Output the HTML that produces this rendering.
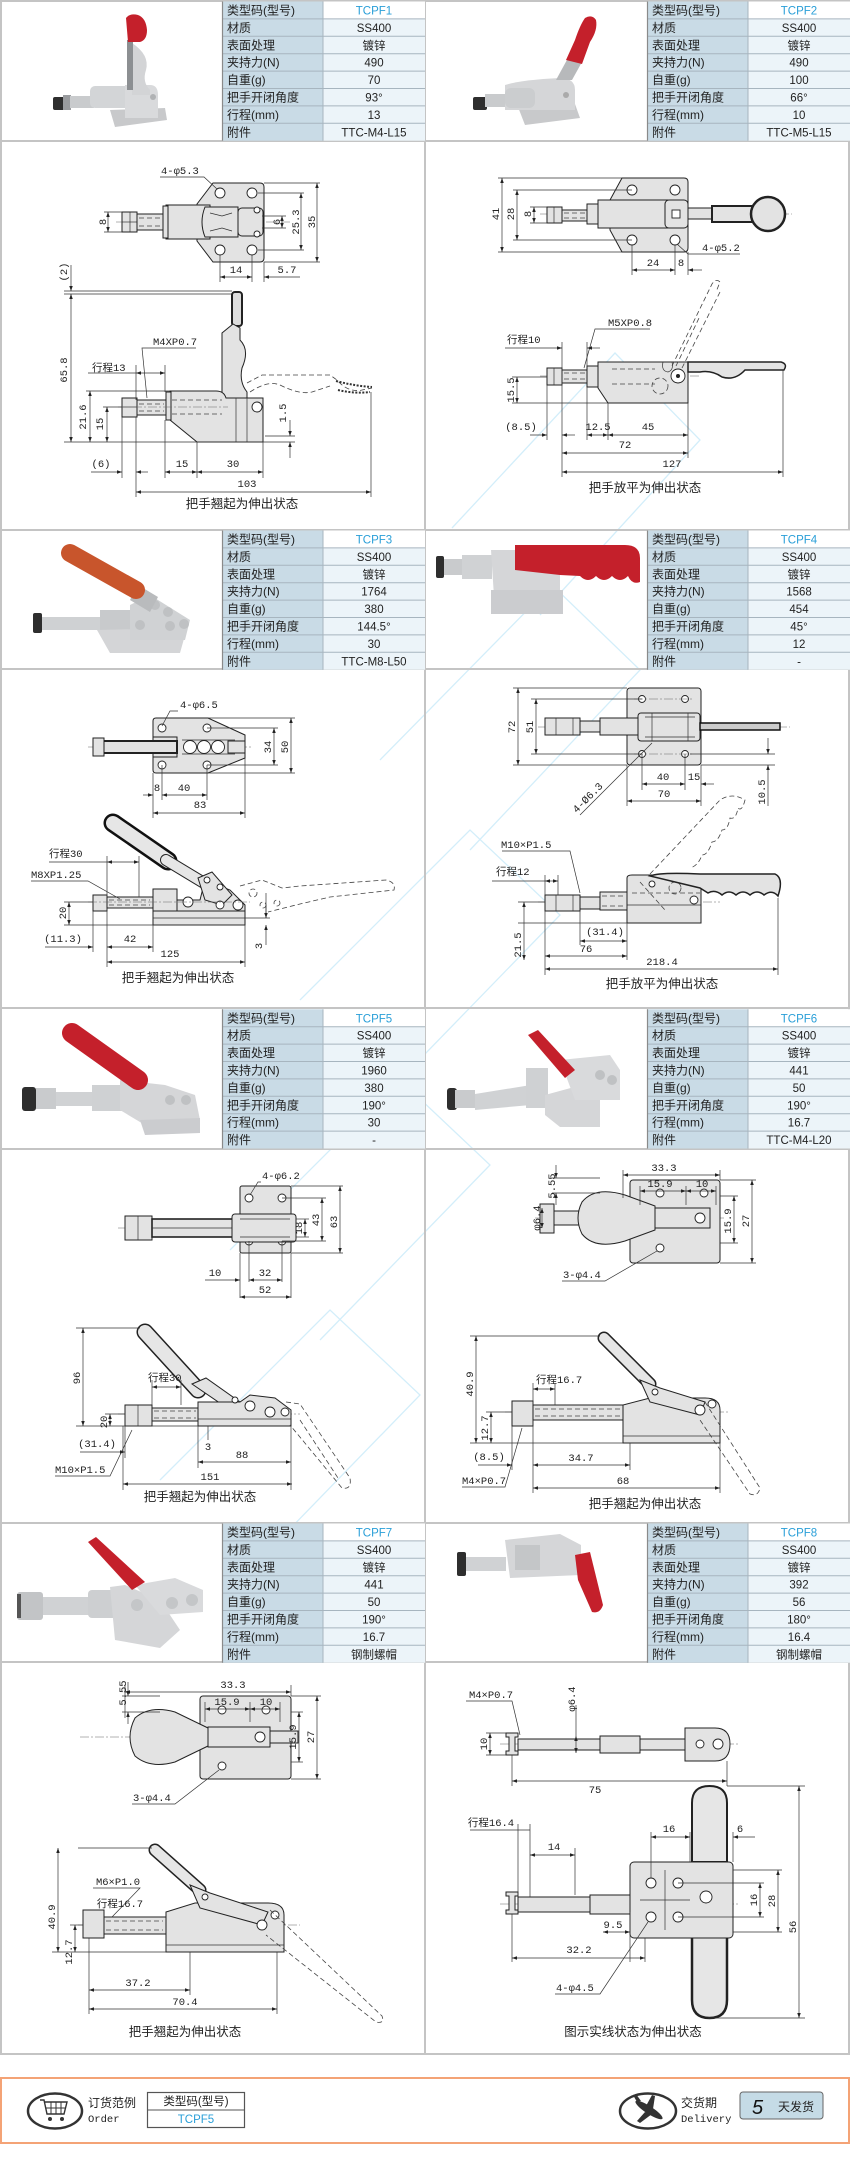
<!DOCTYPE html>
<html><head><meta charset="utf-8">
<style>
html,body{margin:0;padding:0;background:#fff}
svg{display:block}
.lb{font:12px "Liberation Sans","Noto Sans CJK SC",sans-serif;fill:#222}
.vl{font:11.5px "Liberation Sans","Noto Sans CJK SC",sans-serif;fill:#222;text-anchor:middle}
.cd{fill:#2a9fd8}
.d{font:10.5px "Liberation Mono","Noto Sans CJK SC",monospace;fill:#222}
.c{text-anchor:middle}
.cap{font:12.5px "Liberation Sans","Noto Sans CJK SC",sans-serif;fill:#222;text-anchor:middle}
.k{stroke:#333;stroke-width:.7;fill:none}
.ka{stroke:#333;stroke-width:.7;fill:none;marker-end:url(#a)}
.dm{stroke:#333;stroke-width:.7;fill:none;marker-start:url(#a);marker-end:url(#a)}
.p{fill:#e3e3e3;stroke:#222;stroke-width:1}
.h{fill:#fff;stroke:#222;stroke-width:.9}
.ds{fill:none;stroke:#444;stroke-width:.8;stroke-dasharray:5 3}
.cl{stroke:#666;stroke-width:.5;stroke-dasharray:9 2 2 2;fill:none}
.wm{fill:none;stroke:#d3eefa;stroke-width:1.3}
</style></head>
<body>
<svg width="850" height="2169" viewBox="0 0 850 2169" xmlns="http://www.w3.org/2000/svg">
<defs>
<marker id="a" viewBox="0 0 10 10" refX="10" refY="5" markerWidth="6" markerHeight="5" orient="auto-start-reverse" markerUnits="userSpaceOnUse"><path d="M0,1.5 L10,5 L0,8.5 Z" fill="#222"/></marker>
</defs>

<!-- watermark -->
<g class="wm">
<path d="M452,528 L615,353 L700,440 L540,615"/>
<path d="M380,760 L552,585 L640,670 L470,850"/>
<path d="M300,1000 L470,830 L560,915 L390,1090"/>
<path d="M230,1250 L400,1080 L490,1165 L320,1340"/>
<path d="M160,1480 L330,1310 L420,1395 L250,1570"/>
</g>

<!-- panel frames -->
<g fill="none" stroke="#c4c4c4" stroke-width="2">
<rect x="1" y="1" width="848" height="2053"/>
<line x1="425" y1="0" x2="425" y2="2054"/>
<line x1="0" y1="141" x2="850" y2="141"/>
<line x1="0" y1="530" x2="850" y2="530"/>
<line x1="0" y1="669" x2="850" y2="669"/>
<line x1="0" y1="1008" x2="850" y2="1008"/>
<line x1="0" y1="1149" x2="850" y2="1149"/>
<line x1="0" y1="1523" x2="850" y2="1523"/>
<line x1="0" y1="1662" x2="850" y2="1662"/>
</g>

<!-- ================= TABLES ================= -->
<g transform="translate(222,1.5)">
<rect width="101" height="139.2" fill="#c9dbe6"/><rect x="101" width="102" height="139.2" fill="#ecf4f9"/><rect x="101" width="102" height="17.4" fill="#fff"/>
<path d="M0,17.4H203M0,34.8H203M0,52.2H203M0,69.6H203M0,87H203M0,104.4H203M0,121.8H203" stroke="#a7b5bf"/>
<path d="M0.5,0V139.2" stroke="#8a8a8a" stroke-width="1.2"/><path d="M101,0V139.2" stroke="#a7b5bf"/>
<text class="lb" x="5" y="13">类型码(型号)</text><text class="lb" x="5" y="30.4">材质</text><text class="lb" x="5" y="47.8">表面处理</text><text class="lb" x="5" y="65.2">夹持力(N)</text><text class="lb" x="5" y="82.6">自重(g)</text><text class="lb" x="5" y="100">把手开闭角度</text><text class="lb" x="5" y="117.4">行程(mm)</text><text class="lb" x="5" y="134.8">附件</text>
<text class="vl cd" x="152" y="13">TCPF1</text><text class="vl" x="152" y="30.4">SS400</text><text class="vl" x="152" y="47.8">镀锌</text><text class="vl" x="152" y="65.2">490</text><text class="vl" x="152" y="82.6">70</text><text class="vl" x="152" y="100">93°</text><text class="vl" x="152" y="117.4">13</text><text class="vl" x="152" y="134.8">TTC-M4-L15</text>
</g>
<g transform="translate(647,1.5)">
<rect width="101" height="139.2" fill="#c9dbe6"/><rect x="101" width="102" height="139.2" fill="#ecf4f9"/><rect x="101" width="102" height="17.4" fill="#fff"/>
<path d="M0,17.4H203M0,34.8H203M0,52.2H203M0,69.6H203M0,87H203M0,104.4H203M0,121.8H203" stroke="#a7b5bf"/>
<path d="M0.5,0V139.2" stroke="#8a8a8a" stroke-width="1.2"/><path d="M101,0V139.2" stroke="#a7b5bf"/>
<text class="lb" x="5" y="13">类型码(型号)</text><text class="lb" x="5" y="30.4">材质</text><text class="lb" x="5" y="47.8">表面处理</text><text class="lb" x="5" y="65.2">夹持力(N)</text><text class="lb" x="5" y="82.6">自重(g)</text><text class="lb" x="5" y="100">把手开闭角度</text><text class="lb" x="5" y="117.4">行程(mm)</text><text class="lb" x="5" y="134.8">附件</text>
<text class="vl cd" x="152" y="13">TCPF2</text><text class="vl" x="152" y="30.4">SS400</text><text class="vl" x="152" y="47.8">镀锌</text><text class="vl" x="152" y="65.2">490</text><text class="vl" x="152" y="82.6">100</text><text class="vl" x="152" y="100">66°</text><text class="vl" x="152" y="117.4">10</text><text class="vl" x="152" y="134.8">TTC-M5-L15</text>
</g>
<g transform="translate(222,530.5)">
<rect width="101" height="139.2" fill="#c9dbe6"/><rect x="101" width="102" height="139.2" fill="#ecf4f9"/><rect x="101" width="102" height="17.4" fill="#fff"/>
<path d="M0,17.4H203M0,34.8H203M0,52.2H203M0,69.6H203M0,87H203M0,104.4H203M0,121.8H203" stroke="#a7b5bf"/>
<path d="M0.5,0V139.2" stroke="#8a8a8a" stroke-width="1.2"/><path d="M101,0V139.2" stroke="#a7b5bf"/>
<text class="lb" x="5" y="13">类型码(型号)</text><text class="lb" x="5" y="30.4">材质</text><text class="lb" x="5" y="47.8">表面处理</text><text class="lb" x="5" y="65.2">夹持力(N)</text><text class="lb" x="5" y="82.6">自重(g)</text><text class="lb" x="5" y="100">把手开闭角度</text><text class="lb" x="5" y="117.4">行程(mm)</text><text class="lb" x="5" y="134.8">附件</text>
<text class="vl cd" x="152" y="13">TCPF3</text><text class="vl" x="152" y="30.4">SS400</text><text class="vl" x="152" y="47.8">镀锌</text><text class="vl" x="152" y="65.2">1764</text><text class="vl" x="152" y="82.6">380</text><text class="vl" x="152" y="100">144.5°</text><text class="vl" x="152" y="117.4">30</text><text class="vl" x="152" y="134.8">TTC-M8-L50</text>
</g>
<g transform="translate(647,530.5)">
<rect width="101" height="139.2" fill="#c9dbe6"/><rect x="101" width="102" height="139.2" fill="#ecf4f9"/><rect x="101" width="102" height="17.4" fill="#fff"/>
<path d="M0,17.4H203M0,34.8H203M0,52.2H203M0,69.6H203M0,87H203M0,104.4H203M0,121.8H203" stroke="#a7b5bf"/>
<path d="M0.5,0V139.2" stroke="#8a8a8a" stroke-width="1.2"/><path d="M101,0V139.2" stroke="#a7b5bf"/>
<text class="lb" x="5" y="13">类型码(型号)</text><text class="lb" x="5" y="30.4">材质</text><text class="lb" x="5" y="47.8">表面处理</text><text class="lb" x="5" y="65.2">夹持力(N)</text><text class="lb" x="5" y="82.6">自重(g)</text><text class="lb" x="5" y="100">把手开闭角度</text><text class="lb" x="5" y="117.4">行程(mm)</text><text class="lb" x="5" y="134.8">附件</text>
<text class="vl cd" x="152" y="13">TCPF4</text><text class="vl" x="152" y="30.4">SS400</text><text class="vl" x="152" y="47.8">镀锌</text><text class="vl" x="152" y="65.2">1568</text><text class="vl" x="152" y="82.6">454</text><text class="vl" x="152" y="100">45°</text><text class="vl" x="152" y="117.4">12</text><text class="vl" x="152" y="134.8">-</text>
</g>
<g transform="translate(222,1009.3)">
<rect width="101" height="139.2" fill="#c9dbe6"/><rect x="101" width="102" height="139.2" fill="#ecf4f9"/><rect x="101" width="102" height="17.4" fill="#fff"/>
<path d="M0,17.4H203M0,34.8H203M0,52.2H203M0,69.6H203M0,87H203M0,104.4H203M0,121.8H203" stroke="#a7b5bf"/>
<path d="M0.5,0V139.2" stroke="#8a8a8a" stroke-width="1.2"/><path d="M101,0V139.2" stroke="#a7b5bf"/>
<text class="lb" x="5" y="13">类型码(型号)</text><text class="lb" x="5" y="30.4">材质</text><text class="lb" x="5" y="47.8">表面处理</text><text class="lb" x="5" y="65.2">夹持力(N)</text><text class="lb" x="5" y="82.6">自重(g)</text><text class="lb" x="5" y="100">把手开闭角度</text><text class="lb" x="5" y="117.4">行程(mm)</text><text class="lb" x="5" y="134.8">附件</text>
<text class="vl cd" x="152" y="13">TCPF5</text><text class="vl" x="152" y="30.4">SS400</text><text class="vl" x="152" y="47.8">镀锌</text><text class="vl" x="152" y="65.2">1960</text><text class="vl" x="152" y="82.6">380</text><text class="vl" x="152" y="100">190°</text><text class="vl" x="152" y="117.4">30</text><text class="vl" x="152" y="134.8">-</text>
</g>
<g transform="translate(647,1009.3)">
<rect width="101" height="139.2" fill="#c9dbe6"/><rect x="101" width="102" height="139.2" fill="#ecf4f9"/><rect x="101" width="102" height="17.4" fill="#fff"/>
<path d="M0,17.4H203M0,34.8H203M0,52.2H203M0,69.6H203M0,87H203M0,104.4H203M0,121.8H203" stroke="#a7b5bf"/>
<path d="M0.5,0V139.2" stroke="#8a8a8a" stroke-width="1.2"/><path d="M101,0V139.2" stroke="#a7b5bf"/>
<text class="lb" x="5" y="13">类型码(型号)</text><text class="lb" x="5" y="30.4">材质</text><text class="lb" x="5" y="47.8">表面处理</text><text class="lb" x="5" y="65.2">夹持力(N)</text><text class="lb" x="5" y="82.6">自重(g)</text><text class="lb" x="5" y="100">把手开闭角度</text><text class="lb" x="5" y="117.4">行程(mm)</text><text class="lb" x="5" y="134.8">附件</text>
<text class="vl cd" x="152" y="13">TCPF6</text><text class="vl" x="152" y="30.4">SS400</text><text class="vl" x="152" y="47.8">镀锌</text><text class="vl" x="152" y="65.2">441</text><text class="vl" x="152" y="82.6">50</text><text class="vl" x="152" y="100">190°</text><text class="vl" x="152" y="117.4">16.7</text><text class="vl" x="152" y="134.8">TTC-M4-L20</text>
</g>
<g transform="translate(222,1523.5)">
<rect width="101" height="139.2" fill="#c9dbe6"/><rect x="101" width="102" height="139.2" fill="#ecf4f9"/><rect x="101" width="102" height="17.4" fill="#fff"/>
<path d="M0,17.4H203M0,34.8H203M0,52.2H203M0,69.6H203M0,87H203M0,104.4H203M0,121.8H203" stroke="#a7b5bf"/>
<path d="M0.5,0V139.2" stroke="#8a8a8a" stroke-width="1.2"/><path d="M101,0V139.2" stroke="#a7b5bf"/>
<text class="lb" x="5" y="13">类型码(型号)</text><text class="lb" x="5" y="30.4">材质</text><text class="lb" x="5" y="47.8">表面处理</text><text class="lb" x="5" y="65.2">夹持力(N)</text><text class="lb" x="5" y="82.6">自重(g)</text><text class="lb" x="5" y="100">把手开闭角度</text><text class="lb" x="5" y="117.4">行程(mm)</text><text class="lb" x="5" y="134.8">附件</text>
<text class="vl cd" x="152" y="13">TCPF7</text><text class="vl" x="152" y="30.4">SS400</text><text class="vl" x="152" y="47.8">镀锌</text><text class="vl" x="152" y="65.2">441</text><text class="vl" x="152" y="82.6">50</text><text class="vl" x="152" y="100">190°</text><text class="vl" x="152" y="117.4">16.7</text><text class="vl" x="152" y="134.8">钢制螺帽</text>
</g>
<g transform="translate(647,1523.5)">
<rect width="101" height="139.2" fill="#c9dbe6"/><rect x="101" width="102" height="139.2" fill="#ecf4f9"/><rect x="101" width="102" height="17.4" fill="#fff"/>
<path d="M0,17.4H203M0,34.8H203M0,52.2H203M0,69.6H203M0,87H203M0,104.4H203M0,121.8H203" stroke="#a7b5bf"/>
<path d="M0.5,0V139.2" stroke="#8a8a8a" stroke-width="1.2"/><path d="M101,0V139.2" stroke="#a7b5bf"/>
<text class="lb" x="5" y="13">类型码(型号)</text><text class="lb" x="5" y="30.4">材质</text><text class="lb" x="5" y="47.8">表面处理</text><text class="lb" x="5" y="65.2">夹持力(N)</text><text class="lb" x="5" y="82.6">自重(g)</text><text class="lb" x="5" y="100">把手开闭角度</text><text class="lb" x="5" y="117.4">行程(mm)</text><text class="lb" x="5" y="134.8">附件</text>
<text class="vl cd" x="152" y="13">TCPF8</text><text class="vl" x="152" y="30.4">SS400</text><text class="vl" x="152" y="47.8">镀锌</text><text class="vl" x="152" y="65.2">392</text><text class="vl" x="152" y="82.6">56</text><text class="vl" x="152" y="100">180°</text><text class="vl" x="152" y="117.4">16.4</text><text class="vl" x="152" y="134.8">钢制螺帽</text>
</g>

<!-- ================= PRODUCT PHOTOS ================= -->
<g>
<rect x="53" y="97" width="14" height="13" rx="2" fill="#2e2e2e"/>
<rect x="63" y="95" width="8" height="15" fill="#9a9c9f"/>
<rect x="70" y="96" width="24" height="12" fill="#c9cbcd"/>
<polygon points="110,110 165,108 167,120 115,127" fill="#c8c9cb"/>
<rect x="90" y="86" width="42" height="22" rx="5" fill="#d3d5d7"/>
<path d="M125,85 H150 Q158,85 158,95 V118 H125 Z" fill="#d9dadc"/>
<circle cx="153" cy="97" r="3" fill="#b0b2b4"/>
<path d="M132,43 Q150,55 146,70 Q142,82 150,90 L150,95 H132 Z" fill="#d3d4d6"/>
<rect x="127" y="40" width="6" height="50" fill="#8c8f92"/>
<path d="M126,18 Q130,13 138,15 Q146,18 147,30 Q147,40 140,42 L128,42 Z" fill="#c4202b"/>
</g>
<g>
<rect x="473" y="97" width="14" height="13" rx="2" fill="#2e2e2e"/>
<rect x="485" y="94" width="22" height="13" fill="#c9cbcd"/>
<polygon points="518,107 575,104 580,118 525,125" fill="#c8c9cb"/>
<path d="M505,85 Q520,80 560,78 Q575,78 575,90 V110 H505 Z" fill="#d5d6d8"/>
<rect x="505" y="88" width="30" height="20" rx="6" fill="#cbcdcf"/>
<circle cx="566" cy="95" r="3" fill="#aaa"/>
<polygon points="556,80 572,80 582,62 568,58" fill="#b7b9bb"/>
<path d="M566,60 L575,40 Q580,25 585,18 Q592,14 596,20 Q598,30 590,42 L582,64 Z" fill="#c4202b"/>
</g>
<g>
<rect x="33" y="613" width="9" height="20" rx="2" fill="#2e2e2e"/>
<rect x="42" y="617" width="60" height="13" fill="#cfd1d3"/>
<rect x="100" y="610" width="30" height="25" fill="#c8cacc"/>
<polygon points="97,630 187,628 180,653 110,653" fill="#d4d5d7"/>
<path d="M130,605 L150,595 L190,620 L185,640 L130,640 Z" fill="#d0d2d4"/>
<circle cx="155" cy="605" r="5" fill="#bfc1c3"/><circle cx="168" cy="612" r="5" fill="#bfc1c3"/><circle cx="140" cy="625" r="5" fill="#bfc1c3"/><circle cx="170" cy="626" r="5" fill="#bfc1c3"/><circle cx="184" cy="624" r="5" fill="#bfc1c3"/>
<polygon points="138,585 158,597 150,612 130,600" fill="#b9bbbd"/>
<line x1="70" y1="553" x2="136" y2="590" stroke="#c8552c" stroke-width="18" stroke-linecap="round"/>
</g>
<g>
<rect x="436" y="556" width="8" height="22" rx="2" fill="#2e2e2e"/>
<rect x="444" y="559" width="20" height="16" fill="#c9cbcd"/>
<rect x="462" y="555" width="30" height="24" fill="#d0d2d4"/>
<path d="M491,550 H560 V612 H495 Z" fill="#d5d6d8"/>
<rect x="491" y="590" width="72" height="24" fill="#cbcccf"/>
<path d="M515,545 H625 Q640,545 640,558 V582 Q632,585 628,576 Q620,584 612,576 Q604,584 596,576 Q588,584 580,576 L560,575 L515,570 Z" fill="#c4202b"/>
</g>
<g>
<rect x="22" y="1087" width="14" height="24" rx="3" fill="#2e2e2e"/>
<rect x="36" y="1088" width="20" height="21" fill="#c9cbcd"/>
<rect x="56" y="1092" width="42" height="14" fill="#d0d2d4"/>
<rect x="92" y="1085" width="30" height="26" fill="#cfd1d3"/>
<path d="M120,1080 L165,1085 L195,1095 L200,1120 L145,1125 L120,1110 Z" fill="#d5d6d8"/>
<polygon points="140,1120 200,1118 200,1133 145,1135" fill="#cbcccf"/>
<circle cx="170" cy="1100" r="5" fill="#bfc1c3"/><circle cx="186" cy="1100" r="5" fill="#bfc1c3"/>
<line x1="72" y1="1033" x2="138" y2="1080" stroke="#c4202b" stroke-width="20" stroke-linecap="round"/>
</g>
<g>
<rect x="447" y="1088" width="10" height="22" rx="3" fill="#2e2e2e"/>
<rect x="455" y="1090" width="20" height="18" fill="#c9cbcd"/>
<polygon points="475,1094 531,1085 531,1105 475,1110" fill="#d0d2d4"/>
<rect x="526" y="1068" width="22" height="40" fill="#cfd1d3"/>
<polygon points="545,1095 600,1080 600,1127 560,1127 545,1115" fill="#d5d6d8"/>
<path d="M560,1060 L610,1055 L620,1070 L620,1100 L575,1100 Z" fill="#d9dadc"/>
<circle cx="600" cy="1075" r="5" fill="#bfc1c3"/><circle cx="612" cy="1080" r="5" fill="#bfc1c3"/>
<polygon points="528,1035 538,1030 575,1070 565,1078" fill="#c4202b"/>
</g>
<g>
<rect x="17" y="1592" width="26" height="28" rx="3" fill="#c2c4c6"/>
<rect x="17" y="1594" width="4" height="24" fill="#555"/>
<rect x="43" y="1597" width="50" height="18" fill="#d0d2d4"/>
<rect x="88" y="1590" width="32" height="28" rx="4" fill="#cdcfd1"/>
<path d="M110,1587 L125,1585 L160,1600 L180,1630 L160,1648 L115,1640 Z" fill="#d5d6d8"/>
<path d="M135,1585 L175,1578 L203,1590 L203,1612 L160,1615 Z" fill="#d9dadc"/>
<circle cx="137" cy="1605" r="6" fill="#c4c6c8"/><circle cx="172" cy="1603" r="6" fill="#c4c6c8"/><circle cx="192" cy="1600" r="6" fill="#c4c6c8"/>
<polygon points="88,1542 96,1537 145,1582 132,1590" fill="#c4202b"/>
</g>
<g>
<rect x="457" y="1552" width="9" height="24" rx="2" fill="#2e2e2e"/>
<rect x="466" y="1557" width="40" height="14" fill="#d0d2d4"/>
<path d="M505,1540 L560,1534 L581,1545 L581,1575 L510,1578 Z" fill="#d5d6d8"/>
<rect x="515" y="1545" width="25" height="25" fill="#c4c6c8"/>
<path d="M575,1555 L590,1552 L603,1605 Q600,1614 592,1612 L578,1580 Z" fill="#c4202b"/>
</g>

<!-- ================= DRAWING 1 (TCPF1) ================= -->
<g>
<line class="cl" x1="116" y1="222" x2="292" y2="222"/>
<path class="p" d="M213,183 H260 Q264,183 264,187 V258 Q264,262 260,262 H213 L197,241 V204 Z"/>
<circle class="h" cx="220" cy="193" r="5"/><circle class="h" cx="252" cy="193" r="5"/><circle class="h" cx="220" cy="250" r="5"/><circle class="h" cx="252" cy="250" r="5"/>
<rect class="p" x="166" y="205" width="44" height="34"/>
<path class="p" d="M205,207 L238,207 L238,237 L205,237 Q199,222 205,207 Z"/>
<path class="k" d="M210,213 L222,216 L232,213 M210,231 L222,228 L232,231"/>
<rect class="p" x="238" y="208" width="25" height="28" rx="4"/>
<circle class="h" cx="257" cy="210" r="3"/><circle class="h" cx="257" cy="234" r="3"/>
<rect class="p" x="163" y="206" width="5" height="32"/>
<rect class="p" x="122" y="212" width="15" height="20"/>
<line class="k" x1="122" y1="222" x2="137" y2="222"/><line class="k" x1="130" y1="212" x2="130" y2="232"/>
<rect class="p" x="137" y="214" width="26" height="16"/>
<line class="ds" x1="139" y1="218" x2="162" y2="218"/><line class="ds" x1="139" y1="226" x2="162" y2="226"/>
<text class="d" x="161" y="174">4-φ5.3</text>
<polyline class="k" points="160,177 204,177 217,189"/>
<line class="k" x1="104" y1="212" x2="122" y2="212"/><line class="k" x1="104" y1="232" x2="122" y2="232"/>
<line class="dm" x1="108" y1="212" x2="108" y2="232"/>
<text class="d c" transform="translate(106,222) rotate(-90)">8</text>
<line class="k" x1="264" y1="183" x2="320" y2="183"/><line class="k" x1="264" y1="262" x2="320" y2="262"/>
<line class="k" x1="258" y1="193" x2="304" y2="193"/><line class="k" x1="258" y1="250" x2="304" y2="250"/>
<line class="k" x1="262" y1="216" x2="286" y2="216"/><line class="k" x1="262" y1="228" x2="286" y2="228"/>
<line class="dm" x1="317" y1="183" x2="317" y2="262"/>
<line class="dm" x1="301" y1="193" x2="301" y2="250"/>
<line class="dm" x1="282" y1="216" x2="282" y2="228"/>
<text class="d c" transform="translate(280,222) rotate(-90)">6</text>
<text class="d c" transform="translate(299,222) rotate(-90)">25.3</text>
<text class="d c" transform="translate(315,222) rotate(-90)">35</text>
<line class="k" x1="220" y1="255" x2="220" y2="282"/><line class="k" x1="252" y1="255" x2="252" y2="282"/><line class="k" x1="264" y1="262" x2="264" y2="282"/>
<line class="dm" x1="220" y1="277" x2="252" y2="277"/>
<line class="ka" x1="300" y1="277" x2="264" y2="277"/>
<text class="d c" x="236" y="273">14</text><text class="d c" x="287" y="273">5.7</text>
<line class="k" x1="64" y1="291" x2="232" y2="291"/>
<line class="k" x1="64" y1="294" x2="232" y2="294"/>
<line class="ka" x1="71" y1="265" x2="71" y2="291"/>
<line class="dm" x1="71" y1="294" x2="71" y2="442"/>
<text class="d c" transform="translate(67,272) rotate(-90)">(2)</text>
<text class="d c" transform="translate(67,370) rotate(-90)">65.8</text>
<rect x="232" y="292" width="10" height="34" rx="3" fill="#ddd" stroke="#222" stroke-width="2"/>
<path class="p" d="M233,324 L222,333 L222,400 L247,400 L247,392 Q239,382 242,368 Q250,350 240,340 L240,328 Z"/>
<path class="p" d="M170,391 H216 Q224,391 226,398 H263 V442 H197 L170,420 Z"/>
<line class="k" x1="236" y1="398" x2="236" y2="442"/><line class="k" x1="247" y1="398" x2="247" y2="442"/>
<line class="ds" x1="172" y1="400" x2="222" y2="400"/><line class="ds" x1="172" y1="414" x2="222" y2="414"/>
<circle class="h" cx="257" cy="407" r="5"/>
<rect class="p" x="166" y="392" width="5" height="28"/>
<rect class="p" x="122" y="398" width="15" height="19"/>
<line class="k" x1="122" y1="407" x2="137" y2="407"/>
<rect class="p" x="137" y="400" width="29" height="15"/>
<line class="ds" x1="139" y1="404" x2="164" y2="404"/><line class="ds" x1="139" y1="411" x2="164" y2="411"/>
<line class="cl" x1="118" y1="407" x2="228" y2="407"/>
<path class="ds" d="M247,383 L262,375 H330 L337,380 Q348,393 362,390 L372,388"/>
<path class="ds" d="M250,392 Q268,380 280,385 Q300,395 312,392 L330,386"/>
<path d="M336,381 Q355,386 372,387" stroke="#333" stroke-width="2" stroke-dasharray="2 1.5" fill="none"/>
<path d="M338,390 Q355,394 370,392" stroke="#333" stroke-width="2" stroke-dasharray="2 1.5" fill="none"/>
<text class="d" x="92" y="371">行程13</text>
<line class="k" x1="136" y1="365" x2="136" y2="400"/><line class="k" x1="165" y1="365" x2="165" y2="392"/>
<line class="k" x1="88" y1="373" x2="136" y2="373"/>
<line class="dm" x1="136" y1="373" x2="165" y2="373"/>
<text class="d" x="153" y="345">M4XP0.7</text>
<polyline class="k" points="196,348 142,348 147,398"/>
<line class="k" x1="86" y1="391" x2="170" y2="391"/>
<line class="dm" x1="90" y1="391" x2="90" y2="442"/>
<text class="d c" transform="translate(86,417) rotate(-90)">21.6</text>
<line class="k" x1="103" y1="407" x2="122" y2="407"/>
<line class="dm" x1="107" y1="407" x2="107" y2="442"/>
<text class="d c" transform="translate(103,424) rotate(-90)">15</text>
<line class="k" x1="64" y1="442" x2="295" y2="442"/>
<line class="k" x1="265" y1="436" x2="295" y2="436"/>
<line class="ka" x1="290" y1="420" x2="290" y2="436"/>
<line class="ka" x1="290" y1="458" x2="290" y2="442"/>
<text class="d c" transform="translate(286,413) rotate(-90)">1.5</text>
<line class="k" x1="122" y1="417" x2="122" y2="478"/><line class="k" x1="136" y1="417" x2="136" y2="497"/>
<line class="k" x1="165" y1="420" x2="165" y2="478"/><line class="k" x1="197" y1="442" x2="197" y2="478"/>
<line class="k" x1="263" y1="442" x2="263" y2="478"/><line class="k" x1="371" y1="392" x2="371" y2="497"/>
<line class="ka" x1="91" y1="472" x2="122" y2="472"/><line class="ka" x1="148" y1="472" x2="136" y2="472"/>
<text class="d c" x="101" y="467">(6)</text>
<line class="dm" x1="165" y1="472" x2="197" y2="472"/><line class="dm" x1="197" y1="472" x2="263" y2="472"/>
<text class="d c" x="182" y="467">15</text><text class="d c" x="233" y="467">30</text>
<line class="dm" x1="136" y1="492" x2="371" y2="492"/>
<text class="d c" x="247" y="487">103</text>
<text class="cap" x="242" y="508">把手翘起为伸出状态</text>
</g>

<!-- ================= DRAWING 2 (TCPF2) ================= -->
<g>
<line class="cl" x1="540" y1="214" x2="792" y2="214"/>
<path class="p" d="M622,178 H684 Q688,178 688,182 V248 Q688,252 684,252 H622 L610,230 V200 Z"/>
<circle class="h" cx="632" cy="190" r="5"/><circle class="h" cx="675" cy="190" r="5"/><circle class="h" cx="632" cy="240" r="5"/><circle class="h" cx="675" cy="240" r="5"/>
<rect class="p" x="598" y="200" width="70" height="28"/>
<rect class="p" x="587" y="204" width="11" height="20"/>
<rect class="p" x="665" y="200" width="23" height="28" rx="4"/>
<rect class="h" x="672" y="210" width="8" height="8"/>
<rect class="p" x="547" y="207" width="15" height="16"/>
<line class="k" x1="554" y1="207" x2="554" y2="223"/>
<rect class="p" x="562" y="210" width="25" height="11"/>
<line class="ds" x1="564" y1="213" x2="585" y2="213"/><line class="ds" x1="564" y1="218" x2="585" y2="218"/>
<rect class="p" x="688" y="208" width="25" height="11"/>
<rect x="712" y="206" width="42" height="16" fill="#e3e3e3" stroke="#222" stroke-width="2"/>
<circle cx="768" cy="214" r="17" fill="#e3e3e3" stroke="#222" stroke-width="2.5"/>
<line class="k" x1="498" y1="178" x2="622" y2="178"/><line class="k" x1="498" y1="252" x2="622" y2="252"/>
<line class="k" x1="513" y1="190" x2="632" y2="190"/><line class="k" x1="513" y1="240" x2="632" y2="240"/>
<line class="k" x1="530" y1="207" x2="547" y2="207"/><line class="k" x1="530" y1="223" x2="547" y2="223"/>
<line class="dm" x1="502" y1="178" x2="502" y2="252"/>
<line class="dm" x1="517" y1="190" x2="517" y2="240"/>
<line class="dm" x1="534" y1="207" x2="534" y2="223"/>
<text class="d c" transform="translate(499,214) rotate(-90)">41</text>
<text class="d c" transform="translate(514,214) rotate(-90)">28</text>
<text class="d c" transform="translate(531,214) rotate(-90)">8</text>
<text class="d" x="702" y="251">4-φ5.2</text>
<polyline class="k" points="677,244 688,254 740,254"/>
<line class="k" x1="632" y1="245" x2="632" y2="275"/><line class="k" x1="675" y1="245" x2="675" y2="275"/><line class="k" x1="688" y1="252" x2="688" y2="275"/>
<line class="dm" x1="632" y1="270" x2="675" y2="270"/>
<line class="ka" x1="702" y1="270" x2="688" y2="270"/>
<text class="d c" x="653" y="266">24</text><text class="d c" x="681" y="266">8</text>
<line class="cl" x1="540" y1="376" x2="700" y2="376"/>
<path class="p" d="M598,362 H688 V403 H608 L598,388 Z"/>
<path class="ds" d="M612,369 H655 M612,384 H655"/>
<circle class="ds" cx="660" cy="386" r="8"/>
<circle class="h" cx="678" cy="376" r="7"/><circle cx="678" cy="376" r="2" fill="#222"/>
<path class="k" d="M663,362 Q661,371 668,372 Q674,370 672,362"/>
<rect class="p" x="587" y="366" width="11" height="21"/>
<rect class="p" x="547" y="368" width="15" height="17"/>
<line class="k" x1="554" y1="368" x2="554" y2="385"/>
<rect class="p" x="562" y="370" width="25" height="13"/>
<line class="ds" x1="564" y1="373" x2="585" y2="373"/><line class="ds" x1="564" y1="379" x2="585" y2="379"/>
<path d="M688,362 H781 Q788,364 784,370 H745 Q735,381 722,377 Q712,370 700,372 H688 Z" fill="#e3e3e3" stroke="#222" stroke-width="1.5"/>
<path class="ds" d="M672,366 L712,284 Q716,278 720,282 L716,292"/>
<path class="ds" d="M682,368 L720,292"/>
<path class="ds" d="M676,366 L700,316"/>
<text class="d" x="608" y="326">M5XP0.8</text>
<polyline class="k" points="650,329 595,329 584,368"/>
<text class="d" x="507" y="343">行程10</text>
<line class="k" x1="505" y1="348" x2="545" y2="348"/>
<line class="ka" x1="545" y1="348" x2="562" y2="348"/><line class="ka" x1="600" y1="348" x2="587" y2="348"/>
<line class="k" x1="562" y1="342" x2="562" y2="385"/><line class="k" x1="587" y1="342" x2="587" y2="367"/>
<line class="k" x1="512" y1="377" x2="547" y2="377"/><line class="k" x1="512" y1="403" x2="608" y2="403"/>
<line class="dm" x1="517" y1="377" x2="517" y2="403"/>
<text class="d c" transform="translate(514,390) rotate(-90)">15.5</text>
<line class="k" x1="547" y1="385" x2="547" y2="440"/><line class="k" x1="562" y1="385" x2="562" y2="477"/>
<line class="k" x1="587" y1="387" x2="587" y2="440"/><line class="k" x1="608" y1="403" x2="608" y2="440"/>
<line class="k" x1="688" y1="403" x2="688" y2="458"/><line class="k" x1="783" y1="370" x2="783" y2="477"/>
<line class="ka" x1="530" y1="435" x2="547" y2="435"/><line class="ka" x1="575" y1="435" x2="562" y2="435"/>
<text class="d c" x="521" y="430">(8.5)</text>
<line class="dm" x1="587" y1="435" x2="608" y2="435"/><line class="dm" x1="608" y1="435" x2="688" y2="435"/>
<text class="d c" x="598" y="430">12.5</text><text class="d c" x="648" y="430">45</text>
<line class="dm" x1="562" y1="453" x2="688" y2="453"/>
<text class="d c" x="625" y="448">72</text>
<line class="dm" x1="562" y1="472" x2="783" y2="472"/>
<text class="d c" x="672" y="467">127</text>
<text class="cap" x="645" y="492">把手放平为伸出状态</text>
</g>

<!-- ================= DRAWING 3 (TCPF3) ================= -->
<g>
<line class="cl" x1="88" y1="747" x2="252" y2="747"/>
<path class="p" d="M156,718 H208 L245,735 V758 L208,773 H156 Q153,773 153,770 V721 Q153,718 156,718 Z"/>
<circle class="h" cx="162" cy="728" r="4"/><circle class="h" cx="207" cy="728" r="4"/><circle class="h" cx="162" cy="765" r="4"/><circle class="h" cx="207" cy="765" r="4"/>
<rect class="p" x="153" y="737" width="24" height="20"/>
<rect x="97" y="741" width="80" height="12" fill="#e3e3e3" stroke="#222" stroke-width="2"/>
<rect class="p" x="93" y="738" width="11" height="18"/>
<path class="k" d="M182,740 H235 M182,754 H235"/>
<circle class="h" cx="190" cy="747" r="6.5"/><circle class="h" cx="204" cy="747" r="6.5"/><circle class="h" cx="218" cy="747" r="6.5"/>
<rect class="p" x="228" y="741" width="17" height="12"/>
<text class="d" x="180" y="708">4-φ6.5</text>
<polyline class="k" points="178,711 170,711 162,726"/>
<line class="k" x1="208" y1="718" x2="295" y2="718"/><line class="k" x1="208" y1="773" x2="295" y2="773"/>
<line class="k" x1="207" y1="728" x2="278" y2="728"/><line class="k" x1="207" y1="765" x2="278" y2="765"/>
<line class="dm" x1="274" y1="728" x2="274" y2="765"/>
<line class="dm" x1="291" y1="718" x2="291" y2="773"/>
<text class="d c" transform="translate(271,747) rotate(-90)">34</text>
<text class="d c" transform="translate(288,747) rotate(-90)">50</text>
<line class="k" x1="153" y1="773" x2="153" y2="818"/><line class="k" x1="162" y1="765" x2="162" y2="800"/>
<line class="k" x1="207" y1="765" x2="207" y2="800"/><line class="k" x1="245" y1="758" x2="245" y2="818"/>
<line class="ka" x1="143" y1="795" x2="153" y2="795"/>
<line class="dm" x1="162" y1="795" x2="207" y2="795"/>
<text class="d c" x="157" y="791">8</text><text class="d c" x="184" y="791">40</text>
<line class="dm" x1="153" y1="813" x2="245" y2="813"/>
<text class="d c" x="200" y="808">83</text>
<line x1="113" y1="823" x2="168" y2="861" stroke="#111" stroke-width="19" stroke-linecap="round"/>
<line x1="113" y1="823" x2="168" y2="861" stroke="#e6e6e6" stroke-width="14" stroke-linecap="round"/>
<line x1="166" y1="860" x2="214" y2="889" stroke="#222" stroke-width="12" stroke-linecap="round"/>
<line x1="166" y1="860" x2="214" y2="889" stroke="#e6e6e6" stroke-width="10" stroke-linecap="round"/>
<rect class="p" x="153" y="889" width="24" height="22"/>
<path class="p" d="M177,900 H200 L205,880 L230,890 L245,905 V918 H177 Z"/>
<rect class="p" x="153" y="911" width="92" height="14"/>
<line class="k" x1="153" y1="918" x2="245" y2="918"/>
<path class="p" d="M198,878 L212,872 L232,895 L222,905 L205,900 Z"/>
<circle class="h" cx="188" cy="902" r="5"/><circle class="h" cx="207" cy="880" r="3"/><circle class="h" cx="220" cy="887" r="3"/><circle class="h" cx="220" cy="905" r="4"/><circle class="h" cx="238" cy="905" r="5"/>
<rect class="p" x="93" y="895" width="14" height="16"/>
<rect class="p" x="107" y="897" width="46" height="11"/>
<path class="ds" d="M109,900 H150 M109,905 H150"/>
<line class="cl" x1="88" y1="902" x2="250" y2="902"/>
<path class="ds" d="M240,886 L262,880 L282,888 L300,886 L386,880 Q396,882 394,890 L330,897 L300,904 L268,912"/>
<circle class="ds" cx="253" cy="893" r="4"/><circle class="ds" cx="263" cy="905" r="3"/><circle class="ds" cx="277" cy="903" r="3"/>
<text class="d" x="49" y="857">行程30</text>
<line class="k" x1="49" y1="862" x2="107" y2="862"/>
<line class="dm" x1="107" y1="862" x2="139" y2="862"/>
<line class="k" x1="107" y1="856" x2="107" y2="897"/><line class="k" x1="139" y1="856" x2="139" y2="897"/>
<text class="d" x="31" y="878">M8XP1.25</text>
<polyline class="k" points="31,881 88,881 120,899"/>
<line class="k" x1="64" y1="902" x2="93" y2="902"/><line class="k" x1="64" y1="925" x2="245" y2="925"/>
<line class="dm" x1="69" y1="902" x2="69" y2="925"/>
<text class="d c" transform="translate(66,913) rotate(-90)">20</text>
<line class="k" x1="93" y1="911" x2="93" y2="952"/><line class="k" x1="107" y1="908" x2="107" y2="967"/>
<line class="k" x1="153" y1="925" x2="153" y2="952"/><line class="k" x1="245" y1="925" x2="245" y2="967"/>
<line class="ka" x1="45" y1="947" x2="93" y2="947"/>
<text class="d c" x="63" y="942">(11.3)</text>
<line class="dm" x1="107" y1="947" x2="153" y2="947"/>
<text class="d c" x="130" y="942">42</text>
<line class="k" x1="245" y1="918" x2="270" y2="918"/><line class="k" x1="266" y1="893" x2="266" y2="918"/>
<line class="ka" x1="266" y1="905" x2="266" y2="918"/><line class="ka" x1="266" y1="945" x2="266" y2="925"/>
<text class="d c" transform="translate(262,946) rotate(-90)">3</text>
<line class="dm" x1="107" y1="962" x2="245" y2="962"/>
<text class="d c" x="170" y="957">125</text>
<text class="cap" x="178" y="982">把手翘起为伸出状态</text>
</g>

<!-- ================= DRAWING 4 (TCPF4) ================= -->
<g>
<line class="cl" x1="538" y1="727" x2="790" y2="727"/>
<rect class="p" x="627" y="688" width="74" height="77" rx="3"/>
<circle class="h" cx="642" cy="699" r="3.5"/><circle class="h" cx="685" cy="699" r="3.5"/><circle class="h" cx="642" cy="754" r="3.5"/><circle class="h" cx="685" cy="754" r="3.5"/>
<path class="cl" d="M634,699 H693 M634,754 H693"/>
<rect class="p" x="545" y="718" width="35" height="17"/>
<line class="k" x1="556" y1="718" x2="556" y2="735"/><line class="k" x1="573" y1="718" x2="573" y2="735"/>
<rect class="p" x="580" y="721" width="20" height="11"/>
<rect class="p" x="600" y="718" width="38" height="17"/>
<rect class="p" x="638" y="713" width="62" height="28" rx="3"/>
<path class="k" d="M645,717 H695 M645,737 H695 M652,713 V741 M688,713 V741"/>
<rect x="700" y="723" width="80" height="7" fill="#ccc" stroke="#111" stroke-width="1.5"/>
<line class="k" x1="513" y1="688" x2="627" y2="688"/><line class="k" x1="513" y1="765" x2="627" y2="765"/>
<line class="k" x1="531" y1="699" x2="642" y2="699"/><line class="k" x1="531" y1="754" x2="642" y2="754"/>
<line class="dm" x1="518" y1="688" x2="518" y2="765"/>
<line class="dm" x1="536" y1="699" x2="536" y2="754"/>
<text class="d c" transform="translate(515,727) rotate(-90)">72</text>
<text class="d c" transform="translate(533,727) rotate(-90)">51</text>
<line class="k" x1="627" y1="765" x2="627" y2="806"/><line class="k" x1="642" y1="754" x2="642" y2="790"/>
<line class="k" x1="685" y1="754" x2="685" y2="790"/><line class="k" x1="701" y1="765" x2="701" y2="806"/>
<line class="dm" x1="642" y1="784" x2="685" y2="784"/><line class="ka" x1="714" y1="784" x2="701" y2="784"/>
<text class="d c" x="663" y="780">40</text><text class="d c" x="694" y="780">15</text>
<line class="dm" x1="627" y1="801" x2="701" y2="801"/>
<text class="d c" x="664" y="797">70</text>
<line class="k" x1="690" y1="754" x2="775" y2="754"/><line class="k" x1="701" y1="765" x2="775" y2="765"/>
<line class="ka" x1="768" y1="738" x2="768" y2="754"/><line class="ka" x1="768" y1="806" x2="768" y2="765"/>
<text class="d c" transform="translate(765,792) rotate(-90)">10.5</text>
<line class="k" x1="580" y1="815" x2="652" y2="743"/>
<text class="d c" transform="translate(590,800) rotate(-45)">4-Ø6.3</text>
<line class="cl" x1="538" y1="902" x2="720" y2="902"/>
<path class="p" d="M627,878 Q627,875 632,875 H701 V923 H627 Z"/>
<line class="k" x1="627" y1="905" x2="701" y2="905"/>
<path class="ds" d="M632,893 H700 M640,882 L665,910"/>
<circle class="ds" cx="675" cy="888" r="6"/>
<circle class="h" cx="652" cy="884" r="3"/><circle class="h" cx="694" cy="900" r="4"/>
<path d="M650,876 Q660,872 700,874 H775 Q784,878 778,896 Q772,889 764,895 Q757,889 750,895 Q743,889 736,895 Q729,889 722,895 Q715,889 708,893 L700,888 Z" fill="#e3e3e3" stroke="#222" stroke-width="1.5"/>
<rect class="p" x="545" y="895" width="35" height="16"/>
<line class="k" x1="556" y1="895" x2="556" y2="911"/><line class="k" x1="573" y1="895" x2="573" y2="911"/>
<rect class="p" x="580" y="897" width="20" height="12"/>
<rect class="p" x="600" y="892" width="27" height="18"/>
<path class="ds" d="M602,896 H625 M602,906 H625"/>
<path class="ds" d="M650,874 L720,800 Q732,792 745,800 Q742,812 738,808 Q736,820 730,818 Q728,830 722,830 Q718,842 712,842 Q708,855 702,855 Q698,866 690,868"/>
<text class="d" x="501" y="848">M10×P1.5</text>
<polyline class="k" points="502,851 570,851 580,893"/>
<text class="d" x="496" y="875">行程12</text>
<line class="k" x1="492" y1="881" x2="545" y2="881"/>
<line class="dm" x1="545" y1="881" x2="558" y2="881"/>
<line class="k" x1="545" y1="875" x2="545" y2="895"/><line class="k" x1="558" y1="875" x2="558" y2="895"/>
<line class="k" x1="518" y1="902" x2="545" y2="902"/><line class="k" x1="518" y1="923" x2="627" y2="923"/>
<line class="dm" x1="524" y1="902" x2="524" y2="960"/>
<text class="d c" transform="translate(521,945) rotate(-90)">21.5</text>
<line class="k" x1="545" y1="911" x2="545" y2="975"/><line class="k" x1="580" y1="911" x2="580" y2="945"/>
<line class="k" x1="627" y1="923" x2="627" y2="960"/><line class="k" x1="778" y1="898" x2="778" y2="975"/>
<line class="dm" x1="580" y1="941" x2="627" y2="941"/>
<text class="d c" x="605" y="935">(31.4)</text>
<line class="dm" x1="545" y1="956" x2="627" y2="956"/>
<text class="d c" x="586" y="952">76</text>
<line class="dm" x1="545" y1="969" x2="778" y2="969"/>
<text class="d c" x="662" y="965">218.4</text>
<text class="cap" x="662" y="988">把手放平为伸出状态</text>
</g>

<!-- ================= DRAWING 5 (TCPF5) ================= -->
<g>
<line class="cl" x1="118" y1="1228" x2="300" y2="1228"/>
<rect class="p" x="240" y="1186" width="51" height="67" rx="2"/>
<circle class="h" cx="249" cy="1198" r="4"/><circle class="h" cx="282" cy="1198" r="4"/><circle class="h" cx="249" cy="1241" r="4"/><circle class="h" cx="282" cy="1241" r="4"/>
<rect class="p" x="125" y="1216" width="27" height="24"/>
<line class="k" x1="138" y1="1216" x2="138" y2="1240"/>
<rect x="152" y="1219" width="88" height="18" fill="#e3e3e3" stroke="#222" stroke-width="1.6"/>
<line class="k" x1="152" y1="1228" x2="240" y2="1228"/>
<rect class="p" x="232" y="1214" width="64" height="28" rx="3"/>
<path class="k" d="M240,1219 H290 M240,1237 H290"/>
<text class="d" x="262" y="1179">4-φ6.2</text>
<polyline class="k" points="261,1182 258,1182 250,1195"/>
<line class="k" x1="291" y1="1186" x2="343" y2="1186"/><line class="k" x1="291" y1="1253" x2="343" y2="1253"/>
<line class="k" x1="282" y1="1198" x2="326" y2="1198"/><line class="k" x1="282" y1="1241" x2="326" y2="1241"/>
<line class="k" x1="296" y1="1219" x2="309" y2="1219"/><line class="k" x1="296" y1="1237" x2="309" y2="1237"/>
<line class="dm" x1="305" y1="1219" x2="305" y2="1237"/>
<line class="dm" x1="322" y1="1198" x2="322" y2="1241"/>
<line class="dm" x1="340" y1="1186" x2="340" y2="1253"/>
<text class="d c" transform="translate(302,1228) rotate(-90)">18</text>
<text class="d c" transform="translate(319,1220) rotate(-90)">43</text>
<text class="d c" transform="translate(337,1222) rotate(-90)">63</text>
<line class="k" x1="240" y1="1253" x2="240" y2="1298"/><line class="k" x1="249" y1="1241" x2="249" y2="1282"/>
<line class="k" x1="282" y1="1241" x2="282" y2="1282"/><line class="k" x1="291" y1="1253" x2="291" y2="1298"/>
<line class="ka" x1="205" y1="1280" x2="240" y2="1280"/>
<line class="dm" x1="249" y1="1280" x2="282" y2="1280"/>
<text class="d c" x="215" y="1276">10</text><text class="d c" x="265" y="1276">32</text>
<line class="dm" x1="240" y1="1297" x2="291" y2="1297"/>
<text class="d c" x="265" y="1293">52</text>
<line class="cl" x1="118" y1="1414" x2="300" y2="1414"/>
<line x1="145" y1="1332" x2="198" y2="1390" stroke="#222" stroke-width="17" stroke-linecap="round"/>
<line x1="145" y1="1332" x2="198" y2="1390" stroke="#e6e6e6" stroke-width="14" stroke-linecap="round"/>
<path class="p" d="M192,1384 L206,1378 L240,1402 L230,1410 Z"/>
<path class="p" d="M198,1402 H240 L250,1395 L275,1398 L291,1410 V1426 H198 Z"/>
<line class="k" x1="198" y1="1419" x2="291" y2="1419"/>
<circle class="h" cx="235" cy="1400" r="3"/><circle class="h" cx="250" cy="1406" r="5"/><circle class="h" cx="270" cy="1412" r="5"/><circle class="h" cx="285" cy="1412" r="4"/>
<rect class="p" x="125" y="1405" width="27" height="21"/>
<line class="k" x1="138" y1="1405" x2="138" y2="1426"/>
<rect class="p" x="152" y="1408" width="46" height="13"/>
<path class="ds" d="M154,1411 H196 M154,1418 H196"/>
<path class="ds" d="M286,1402 L300,1404 L350,1478 Q352,1490 342,1488 L290,1425"/>
<path class="ds" d="M300,1420 L338,1478"/>
<line class="k" x1="76" y1="1328" x2="140" y2="1328"/><line class="k" x1="76" y1="1426" x2="198" y2="1426"/>
<line class="dm" x1="83" y1="1328" x2="83" y2="1426"/>
<text class="d c" transform="translate(80,1378) rotate(-90)">96</text>
<text class="d" x="148" y="1381">行程30</text>
<line class="k" x1="152" y1="1380" x2="152" y2="1405"/><line class="k" x1="181" y1="1380" x2="181" y2="1405"/>
<line class="dm" x1="152" y1="1387" x2="181" y2="1387"/>
<line class="k" x1="105" y1="1414" x2="125" y2="1414"/>
<line class="dm" x1="110" y1="1414" x2="110" y2="1426"/>
<text class="d c" transform="translate(107,1422) rotate(-90)">20</text>
<line class="k" x1="125" y1="1426" x2="125" y2="1458"/><line class="k" x1="123" y1="1426" x2="123" y2="1490"/>
<line class="k" x1="198" y1="1426" x2="198" y2="1468"/><line class="k" x1="291" y1="1426" x2="291" y2="1490"/>
<line class="k" x1="208" y1="1426" x2="208" y2="1440"/>
<line class="ka" x1="80" y1="1452" x2="125" y2="1452"/>
<text class="d c" x="97" y="1447">(31.4)</text>
<text class="d c" x="208" y="1450">3</text>
<line class="dm" x1="198" y1="1462" x2="291" y2="1462"/>
<text class="d c" x="242" y="1458">88</text>
<text class="d" x="55" y="1473">M10×P1.5</text>
<polyline class="k" points="55,1476 110,1476 132,1430"/>
<line class="dm" x1="123" y1="1484" x2="292" y2="1484"/>
<text class="d c" x="210" y="1480">151</text>
<text class="cap" x="200" y="1501">把手翘起为伸出状态</text>
</g>

<!-- ================= DRAWING 6 (TCPF6) ================= -->
<g>
<line class="cl" x1="535" y1="1218" x2="725" y2="1218"/>
<rect class="p" x="630" y="1180" width="90" height="83" rx="3"/>
<circle class="h" cx="660" cy="1193" r="4"/><circle class="h" cx="704" cy="1193" r="4"/><circle class="h" cx="660" cy="1248" r="4"/>
<rect class="p" x="540" y="1204" width="14" height="29"/>
<rect class="p" x="554" y="1211" width="30" height="14"/>
<path class="p" d="M655,1206 L625,1195 Q595,1186 582,1202 Q574,1218 582,1234 Q595,1250 625,1241 L655,1230 Z"/>
<rect class="p" x="655" y="1208" width="55" height="20"/>
<circle class="h" cx="700" cy="1218" r="5"/>
<line class="k" x1="623" y1="1170" x2="623" y2="1198"/><line class="k" x1="720" y1="1170" x2="720" y2="1180"/>
<line class="dm" x1="623" y1="1175" x2="720" y2="1175"/>
<text class="d c" x="664" y="1171">33.3</text>
<line class="k" x1="640" y1="1186" x2="640" y2="1205"/><line class="k" x1="686" y1="1186" x2="686" y2="1205"/><line class="k" x1="716" y1="1186" x2="716" y2="1205"/>
<line class="dm" x1="640" y1="1191" x2="686" y2="1191"/><line class="dm" x1="686" y1="1191" x2="716" y2="1191"/>
<text class="d c" x="660" y="1187">15.9</text><text class="d c" x="702" y="1187">10</text>
<line class="k" x1="552" y1="1178" x2="600" y2="1178"/>
<line class="ka" x1="556" y1="1165" x2="556" y2="1178"/><line class="ka" x1="556" y1="1205" x2="556" y2="1193"/>
<line class="k" x1="552" y1="1193" x2="600" y2="1193"/>
<text class="d c" transform="translate(555,1186) rotate(-90)">5.55</text>
<line class="dm" x1="542" y1="1208" x2="542" y2="1228"/>
<text class="d c" transform="translate(540,1218) rotate(-90)">φ6.4</text>
<line class="k" x1="720" y1="1196" x2="738" y2="1196"/><line class="k" x1="720" y1="1243" x2="738" y2="1243"/>
<line class="k" x1="720" y1="1180" x2="756" y2="1180"/><line class="k" x1="720" y1="1263" x2="756" y2="1263"/>
<line class="dm" x1="734" y1="1196" x2="734" y2="1243"/>
<line class="dm" x1="752" y1="1180" x2="752" y2="1263"/>
<text class="d c" transform="translate(731,1221) rotate(-90)">15.9</text>
<text class="d c" transform="translate(749,1221) rotate(-90)">27</text>
<text class="d" x="563" y="1278">3-φ4.4</text>
<polyline class="k" points="562,1281 605,1281 657,1251"/>
<line class="cl" x1="505" y1="1412" x2="730" y2="1412"/>
<line x1="604" y1="1338" x2="650" y2="1384" stroke="#222" stroke-width="13" stroke-linecap="round"/>
<line x1="604" y1="1338" x2="650" y2="1384" stroke="#e6e6e6" stroke-width="10" stroke-linecap="round"/>
<path class="p" d="M623,1443 V1405 L650,1398 H705 Q720,1398 720,1410 V1443 Z"/>
<line class="k" x1="623" y1="1436" x2="720" y2="1436"/>
<path class="p" d="M640,1380 L660,1388 L705,1402 L700,1415 L650,1402 Z"/>
<circle class="h" cx="700" cy="1410" r="5"/><circle class="h" cx="712" cy="1404" r="4"/><circle class="h" cx="655" cy="1392" r="3"/>
<rect class="p" x="512" y="1401" width="21" height="25"/>
<rect class="p" x="533" y="1405" width="90" height="15"/>
<path class="ds" d="M535,1409 H620 M535,1416 H620"/>
<path class="ds" d="M705,1402 L760,1488 Q758,1497 750,1494 L700,1420"/>
<line class="k" x1="470" y1="1336" x2="600" y2="1336"/><line class="k" x1="470" y1="1443" x2="623" y2="1443"/>
<line class="dm" x1="476" y1="1336" x2="476" y2="1443"/>
<text class="d c" transform="translate(473,1384) rotate(-90)">40.9</text>
<line class="k" x1="486" y1="1412" x2="512" y2="1412"/>
<line class="dm" x1="491" y1="1412" x2="491" y2="1443"/>
<text class="d c" transform="translate(488,1428) rotate(-90)">12.7</text>
<text class="d" x="536" y="1383">行程16.7</text>
<line class="k" x1="533" y1="1383" x2="533" y2="1405"/><line class="k" x1="555" y1="1383" x2="555" y2="1405"/>
<line class="dm" x1="533" y1="1389" x2="555" y2="1389"/>
<line class="k" x1="512" y1="1426" x2="512" y2="1470"/><line class="k" x1="533" y1="1420" x2="533" y2="1493"/>
<line class="k" x1="630" y1="1443" x2="630" y2="1470"/><line class="k" x1="720" y1="1443" x2="720" y2="1493"/>
<line class="ka" x1="478" y1="1465" x2="512" y2="1465"/>
<text class="d c" x="489" y="1460">(8.5)</text>
<line class="dm" x1="533" y1="1465" x2="630" y2="1465"/>
<text class="d c" x="581" y="1461">34.7</text>
<text class="d" x="462" y="1484">M4×P0.7</text>
<polyline class="k" points="462,1487 505,1487 522,1428"/>
<line class="dm" x1="533" y1="1488" x2="720" y2="1488"/>
<text class="d c" x="623" y="1484">68</text>
<text class="cap" x="645" y="1508">把手翘起为伸出状态</text>
</g>

<!-- ================= DRAWING 7 (TCPF7) ================= -->
<g>
<line class="cl" x1="80" y1="1737" x2="300" y2="1737"/>
<rect class="p" x="200" y="1696" width="91" height="83" rx="3"/>
<circle class="h" cx="222" cy="1710" r="4"/><circle class="h" cx="266" cy="1710" r="4"/><circle class="h" cx="222" cy="1766" r="4"/>
<path class="p" d="M208,1728 L175,1712 Q150,1705 135,1718 Q125,1737 135,1756 Q150,1769 175,1762 L208,1746 Z"/>
<rect class="p" x="208" y="1727" width="62" height="20"/>
<circle class="h" cx="260" cy="1737" r="5"/>
<rect class="p" x="270" y="1731" width="28" height="12"/>
<line class="k" x1="125" y1="1685" x2="125" y2="1718"/><line class="k" x1="291" y1="1685" x2="291" y2="1696"/>
<line class="dm" x1="125" y1="1692" x2="291" y2="1692"/>
<text class="d c" x="233" y="1688">33.3</text>
<line class="k" x1="205" y1="1702" x2="205" y2="1722"/><line class="k" x1="250" y1="1702" x2="250" y2="1722"/><line class="k" x1="280" y1="1702" x2="280" y2="1722"/>
<line class="dm" x1="205" y1="1709" x2="250" y2="1709"/><line class="dm" x1="250" y1="1709" x2="280" y2="1709"/>
<text class="d c" x="227" y="1705">15.9</text><text class="d c" x="266" y="1705">10</text>
<line class="k" x1="122" y1="1696" x2="160" y2="1696"/><line class="k" x1="122" y1="1712" x2="160" y2="1712"/>
<line class="ka" x1="128" y1="1682" x2="128" y2="1696"/><line class="ka" x1="128" y1="1724" x2="128" y2="1712"/>
<text class="d c" transform="translate(126,1693) rotate(-90)">5.55</text>
<line class="k" x1="291" y1="1712" x2="303" y2="1712"/><line class="k" x1="291" y1="1762" x2="303" y2="1762"/>
<line class="dm" x1="299" y1="1712" x2="299" y2="1762"/>
<line class="dm" x1="317" y1="1696" x2="317" y2="1779"/>
<line class="k" x1="291" y1="1696" x2="321" y2="1696"/><line class="k" x1="291" y1="1779" x2="321" y2="1779"/>
<text class="d c" transform="translate(296,1737) rotate(-90)">15.9</text>
<text class="d c" transform="translate(314,1737) rotate(-90)">27</text>
<text class="d" x="133" y="1801">3-φ4.4</text>
<polyline class="k" points="132,1804 175,1804 219,1770"/>
<line class="cl" x1="78" y1="1925" x2="300" y2="1925"/>
<line x1="155" y1="1850" x2="200" y2="1890" stroke="#222" stroke-width="13" stroke-linecap="round"/>
<line x1="155" y1="1850" x2="200" y2="1890" stroke="#e6e6e6" stroke-width="10" stroke-linecap="round"/>
<path class="p" d="M166,1952 V1912 L195,1903 H268 Q284,1903 284,1915 V1952 Z"/>
<line class="k" x1="166" y1="1945" x2="284" y2="1945"/>
<path class="p" d="M190,1885 L210,1893 L268,1912 L262,1925 L200,1908 Z"/>
<circle class="h" cx="262" cy="1925" r="5"/><circle class="h" cx="275" cy="1915" r="4"/><circle class="h" cx="205" cy="1897" r="3"/>
<rect class="p" x="83" y="1910" width="21" height="28"/>
<rect class="p" x="104" y="1917" width="62" height="17"/>
<path class="ds" d="M106,1921 H163 M106,1930 H163"/>
<path class="ds" d="M270,1910 L382,2016 Q385,2024 376,2022 L266,1935"/>
<text class="d c" x="118" y="1885">M6×P1.0</text>
<polyline class="k" points="93,1888 140,1888 112,1917"/>
<text class="d c" x="120" y="1907">行程16.7</text>
<line class="k" x1="78" y1="1848" x2="152" y2="1848"/><line class="k" x1="52" y1="1952" x2="166" y2="1952"/>
<line class="dm" x1="58" y1="1848" x2="58" y2="1952"/>
<text class="d c" transform="translate(55,1917) rotate(-90)">40.9</text>
<line class="k" x1="70" y1="1925" x2="83" y2="1925"/>
<line class="dm" x1="75" y1="1925" x2="75" y2="1952"/>
<text class="d c" transform="translate(72,1952) rotate(-90)">12.7</text>
<line class="k" x1="89" y1="1938" x2="89" y2="2014"/><line class="k" x1="190" y1="1952" x2="190" y2="1995"/>
<line class="k" x1="277" y1="1952" x2="277" y2="2014"/>
<line class="dm" x1="89" y1="1990" x2="190" y2="1990"/>
<text class="d c" x="138" y="1986">37.2</text>
<line class="dm" x1="89" y1="2009" x2="277" y2="2009"/>
<text class="d c" x="185" y="2005">70.4</text>
<text class="cap" x="185" y="2036">把手翘起为伸出状态</text>
</g>

<!-- ================= DRAWING 8 (TCPF8) ================= -->
<g>
<line class="cl" x1="500" y1="1744" x2="740" y2="1744"/>
<path class="p" d="M506,1733 H518 V1737 H515 V1751 H518 V1755 H506 V1751 H509 V1737 H506 Z"/>
<rect class="p" x="518" y="1739" width="174" height="11"/>
<rect class="p" x="600" y="1736" width="40" height="17"/>
<path class="p" d="M685,1728 H715 Q730,1728 730,1744 Q730,1761 715,1761 H685 Z"/>
<circle class="h" cx="700" cy="1744" r="4"/><circle class="h" cx="718" cy="1744" r="5"/>
<text class="d c" x="491" y="1698">M4×P0.7</text>
<polyline class="k" points="466,1701 512,1701 520,1735"/>
<line class="dm" x1="576" y1="1736" x2="576" y2="1753"/>
<line class="k" x1="576" y1="1705" x2="576" y2="1736"/>
<text class="d c" transform="translate(575,1699) rotate(-90)">φ6.4</text>
<line class="k" x1="486" y1="1733" x2="506" y2="1733"/><line class="k" x1="486" y1="1755" x2="506" y2="1755"/>
<line class="dm" x1="490" y1="1733" x2="490" y2="1755"/>
<text class="d c" transform="translate(487,1744) rotate(-90)">10</text>
<line class="k" x1="512" y1="1755" x2="512" y2="1786"/><line class="k" x1="727" y1="1761" x2="727" y2="1786"/>
<line class="dm" x1="512" y1="1781" x2="727" y2="1781"/>
<text class="d c" x="595" y="1793">75</text>
<line class="cl" x1="500" y1="1904" x2="740" y2="1904"/>
<path d="M692,1862 V1803 Q692,1786 709.5,1786 Q727,1786 727,1803 V1862 Z" fill="#e6e6e6" stroke="#222" stroke-width="2"/>
<path d="M692,1935 V2000 Q692,2018 709.5,2018 Q727,2018 727,2000 V1935 Z" fill="#e6e6e6" stroke="#222" stroke-width="2.5"/>
<rect class="p" x="630" y="1862" width="103" height="76" rx="4"/>
<circle class="h" cx="651" cy="1883" r="5"/><circle class="h" cx="678" cy="1883" r="5"/><circle class="h" cx="651" cy="1917" r="5"/><circle class="h" cx="678" cy="1917" r="5"/><circle class="h" cx="706" cy="1897" r="6"/>
<path class="k" d="M640,1900 H690 M665,1870 V1930"/>
<path class="p" d="M506,1892 H518 V1896 H515 V1910 H518 V1914 H506 V1910 H509 V1896 H506 Z"/>
<rect class="p" x="518" y="1897" width="112" height="15"/>
<rect class="p" x="590" y="1895" width="40" height="19"/>
<text class="d c" x="491" y="1826">行程16.4</text>
<line class="k" x1="470" y1="1830" x2="530" y2="1830"/>
<line class="k" x1="518" y1="1824" x2="518" y2="1897"/><line class="k" x1="530" y1="1824" x2="530" y2="1897"/>
<line class="dm" x1="530" y1="1855" x2="575" y2="1855"/>
<line class="k" x1="575" y1="1848" x2="575" y2="1895"/>
<text class="d c" x="554" y="1850">14</text>
<line class="k" x1="651" y1="1832" x2="651" y2="1878"/><line class="k" x1="690" y1="1832" x2="690" y2="1862"/>
<line class="dm" x1="651" y1="1837" x2="690" y2="1837"/>
<text class="d c" x="669" y="1832">16</text>
<line class="k" x1="733" y1="1832" x2="733" y2="1862"/>
<line class="ka" x1="755" y1="1837" x2="733" y2="1837"/>
<text class="d c" x="740" y="1832">6</text>
<line class="k" x1="678" y1="1883" x2="764" y2="1883"/><line class="k" x1="678" y1="1917" x2="764" y2="1917"/>
<line class="k" x1="733" y1="1870" x2="782" y2="1870"/><line class="k" x1="733" y1="1932" x2="782" y2="1932"/>
<line class="dm" x1="760" y1="1883" x2="760" y2="1917"/>
<line class="dm" x1="778" y1="1870" x2="778" y2="1932"/>
<text class="d c" transform="translate(757,1900) rotate(-90)">16</text>
<text class="d c" transform="translate(775,1901) rotate(-90)">28</text>
<line class="k" x1="727" y1="1786" x2="805" y2="1786"/><line class="k" x1="708" y1="2018" x2="805" y2="2018"/>
<line class="dm" x1="799" y1="1786" x2="799" y2="2018"/>
<text class="d c" transform="translate(796,1927) rotate(-90)">56</text>
<line class="k" x1="630" y1="1912" x2="630" y2="1962"/><line class="k" x1="645" y1="1938" x2="645" y2="1962"/>
<line class="dm" x1="603" y1="1932" x2="630" y2="1932"/>
<text class="d c" x="613" y="1928">9.5</text>
<line class="k" x1="512" y1="1914" x2="512" y2="1962"/>
<line class="dm" x1="512" y1="1958" x2="645" y2="1958"/>
<text class="d c" x="579" y="1953">32.2</text>
<text class="d" x="556" y="1991">4-φ4.5</text>
<polyline class="k" points="555,1994 600,1994 648,1922"/>
<text class="cap" x="633" y="2036">图示实线状态为伸出状态</text>
</g>

<!-- ================= FOOTER ================= -->
<g>
<rect x="1" y="2078" width="848" height="65" fill="none" stroke="#f4a376" stroke-width="2"/>
<ellipse cx="55" cy="2111" rx="27" ry="17.5" fill="none" stroke="#333" stroke-width="2.5"/>
<path d="M40,2100 H44 L47,2114 H64 L67,2102 H45" fill="none" stroke="#333" stroke-width="1.4"/>
<path d="M51,2102 V2114 M56,2102 V2114 M61,2102 V2114 M46,2108 H66" stroke="#333" stroke-width="1"/>
<circle cx="50" cy="2119" r="2" fill="#333"/><circle cx="62" cy="2119" r="2" fill="#333"/>
<text class="lb" x="88" y="2107">订货范例</text>
<text class="d" x="88" y="2122">Order</text>
<rect x="147.5" y="2092.5" width="97" height="35" fill="#fff" stroke="#555" stroke-width="1.2"/>
<line x1="147" y1="2110" x2="245" y2="2110" stroke="#555" stroke-width="1"/>
<text class="vl" x="196" y="2105">类型码(型号)</text>
<text class="vl cd" x="196" y="2123">TCPF5</text>
<ellipse cx="648" cy="2111" rx="28" ry="17.5" fill="none" stroke="#333" stroke-width="2.5"/>
<ellipse cx="649" cy="2110" rx="16" ry="3.8" transform="rotate(33 649 2110)" fill="#333"/>
<path d="M646,2106 L652,2095 L655,2096 L653,2109 Z" fill="#333"/>
<path d="M645,2112 L637,2121 L640,2123 L652,2114 Z" fill="#333"/>
<path d="M637,2102 L633,2095 L636,2094 L641,2101 Z" fill="#333"/>
<text class="lb" x="681" y="2107">交货期</text>
<text class="d" x="681" y="2122">Delivery</text>
<rect x="740" y="2092" width="83" height="27" rx="3" fill="#c5dbe6" stroke="#666" stroke-width="1"/>
<text x="752" y="2114" font-family="Liberation Sans, sans-serif" font-style="italic" font-size="20" fill="#111">5</text>
<text class="lb" x="778" y="2111" font-size="12.5">天发货</text>
</g>
</svg>
</body></html>
